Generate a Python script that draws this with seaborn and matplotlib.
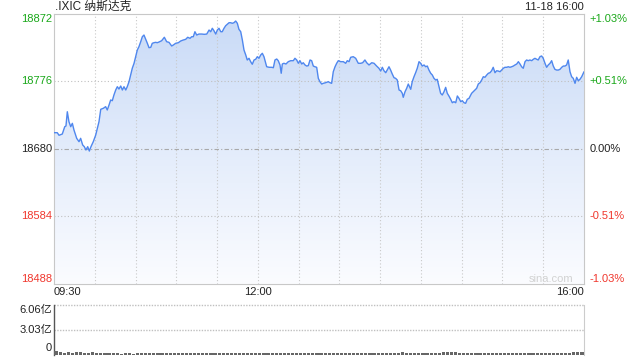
import numpy as np
import matplotlib
matplotlib.use('Agg')
import matplotlib.pyplot as plt
import seaborn as sns
from matplotlib.path import Path
from matplotlib.colors import LinearSegmentedColormap

# ---------------- data ----------------
# minutes after 09:30
t = [0, 2.4, 3.7, 6.1, 7.9, 8.8, 9.8, 11.0, 12.3, 13.5, 14.7, 16.7, 18.4, 19.6, 21.1, 22.3, 23.5, 24.8, 26.0, 27.2,
     28.9, 30.7, 31.9, 33.1, 34.4, 36.3, 38.0, 39.2, 40.5, 41.7, 42.9, 44.1, 45.4, 46.6, 47.8, 49.1, 50.3, 51.5, 52.8, 53.9,
     55.2, 56.4, 57.6, 58.9, 60.1, 61.3, 62.5, 63.8, 65.0, 66.2, 67.5, 68.7, 69.9, 71.2, 72.3, 73.6, 74.8, 76.0, 77.3,
     79.2, 81.2, 82.9, 84.6, 86.6, 87.8, 89.5, 91.5, 93.2, 95.1, 96.9, 98.4, 100.1, 101.3, 102.5, 103.7, 105.0, 106.7, 108.7, 110.6,
     112.4, 114.1, 115.3, 116.5, 117.7, 119.0, 120.2, 121.4, 122.7, 123.8, 125.1, 126.3, 127.5, 128.8, 130.0, 131.2, 132.4, 133.7, 134.9, 136.1,
     137.4, 138.6, 139.8, 141.1, 142.2, 143.5, 144.7, 145.9, 147.2, 148.4, 149.6, 150.8, 152.1, 153.3, 154.5,
     156.5, 158.4, 160.2, 161.4, 162.6, 163.9, 165.0, 166.3, 167.2, 168.0, 169.2, 170.7, 172.4, 174.2, 176.1, 177.3, 178.6, 179.8, 181.0, 182.3,
     183.4, 184.7, 185.9, 187.1, 188.4, 189.6, 190.8, 192.0, 193.3, 194.5, 195.7, 197.0, 198.1, 199.9, 201.8, 203.1, 204.3, 205.5, 206.8, 208.0,
     209.2, 210.9, 212.9, 214.6, 215.8, 217.1, 218.3, 220.2, 222.0, 223.9, 225.7, 227.1,
     228.8, 230.1, 231.8, 233.8, 235.5, 237.4, 239.1, 240.4, 241.6, 242.8, 244.1, 245.2, 246.5, 247.7, 248.9, 250.2, 251.4, 252.6, 253.9, 255.1,
     256.3, 257.0, 258.3, 259.5, 260.7, 262.5, 263.6, 264.9, 266.1, 267.3, 268.6, 269.8, 271.0, 272.3, 273.5, 274.7, 275.9, 277.2, 278.4, 279.6,
     280.9, 282.0, 283.3, 284.5, 285.7, 287.0, 288.2, 289.4, 290.6, 291.9, 293.1, 294.3, 295.6, 296.8, 298.0, 299.3, 300.4, 301.7, 302.9, 304.1,
     305.4,
     307.3, 308.5, 309.8, 311.0, 312.2, 313.5, 314.7, 315.9, 317.1, 318.4, 319.6, 320.8, 322.0, 323.2, 324.5, 325.7, 326.9, 328.2, 329.4, 330.6,
     331.8, 333.1, 334.3, 335.5, 336.8, 338.0, 339.2, 340.5, 341.7, 342.9, 344.1, 345.3, 346.6, 347.8, 349.0, 350.2, 351.5, 352.7, 353.9, 355.2,
     356.3, 357.6, 358.8, 360.0, 361.3, 362.5, 363.7, 365.0, 366.2, 367.4, 368.6, 369.9, 371.1, 372.3, 373.6, 374.8, 376.0, 377.2, 378.4, 379.7,
     380.9, 382.1, 383.4, 384.6, 385.8, 387.0, 388.3, 390.0]

price = [18703.2, 18703.2, 18699.5, 18701.3, 18711.7, 18712.7, 18733.0, 18718.8, 18711.7, 18716.5, 18707.0, 18695.2, 18690.4, 18695.2, 18685.7, 18683.3, 18678.6, 18683.3, 18677.1, 18683.3,
         18690.4, 18699.9, 18709.4, 18718.8, 18736.5, 18737.9, 18740.2, 18735.5, 18742.6, 18749.7, 18748.7, 18756.8, 18763.9, 18768.6, 18765.3, 18769.6, 18763.9, 18768.6, 18763.9, 18768.6,
         18775.7, 18785.2, 18794.8, 18801.9, 18811.3, 18820.8, 18825.5, 18832.6, 18839.7, 18842.1, 18836.0, 18830.3, 18824.1, 18824.6, 18830.3, 18831.2, 18831.7, 18831.2, 18832.2,
         18834.0, 18838.9, 18832.6, 18831.7, 18826.5, 18827.9, 18830.3, 18831.2, 18833.6, 18835.0, 18836.0, 18838.9, 18837.4, 18839.7, 18839.7, 18846.8, 18842.1, 18843.5, 18843.5, 18843.1,
         18843.5, 18849.2, 18846.8, 18851.7, 18848.2, 18843.5, 18849.2, 18851.7, 18846.8, 18846.8, 18851.7, 18855.3, 18857.3, 18859.6, 18859.6, 18858.8, 18859.6, 18862.0, 18858.8, 18850.2,
         18846.8, 18835.0, 18820.8, 18813.7, 18806.6, 18809.0, 18804.2, 18800.5, 18806.6, 18807.6, 18811.3, 18809.0, 18813.7, 18816.1, 18811.3,
         18797.0, 18796.2, 18796.2, 18795.6, 18806.6, 18808.0, 18805.6, 18799.5, 18787.7, 18800.9, 18801.9, 18800.9, 18804.2, 18805.6, 18805.6, 18809.0, 18806.6, 18801.9, 18805.6, 18800.9,
         18802.7, 18799.5, 18798.0, 18798.5, 18806.6, 18805.6, 18798.0, 18797.0, 18796.2, 18780.5, 18775.7, 18772.4, 18773.4, 18774.3, 18775.7, 18774.3, 18773.4, 18789.9, 18797.0, 18801.9,
         18805.6, 18804.2, 18804.2, 18801.9, 18805.6, 18804.2, 18810.4, 18811.3, 18809.0, 18801.9, 18801.9, 18802.7,
         18806.6, 18802.7, 18799.5, 18802.7, 18801.9, 18798.0, 18794.8, 18790.9, 18796.2, 18791.3, 18788.5, 18792.3, 18797.0, 18792.3, 18786.7, 18781.4, 18780.5, 18778.1, 18763.9, 18762.9,
         18759.2, 18753.5, 18761.5, 18766.3, 18772.4, 18764.9, 18775.7, 18782.8, 18788.5, 18794.8, 18804.2, 18801.9, 18798.0, 18799.5, 18797.0, 18798.0, 18792.3, 18787.7, 18785.2, 18780.5,
         18778.1, 18779.1, 18768.6, 18759.2, 18756.8, 18761.5, 18767.7, 18759.2, 18755.4, 18750.7, 18745.8, 18747.3, 18745.8, 18755.4, 18752.1, 18747.3, 18748.7, 18745.8, 18745.0, 18750.7,
         18752.1,
         18759.2, 18761.5, 18763.9, 18766.3, 18772.4, 18774.3, 18778.1, 18782.8, 18782.0, 18785.2, 18787.7, 18788.5, 18791.3, 18796.2, 18788.5, 18791.3, 18790.9, 18789.9, 18792.3, 18794.8,
         18796.2, 18796.2, 18797.0, 18796.2, 18797.0, 18798.0, 18799.5, 18800.9, 18804.2, 18800.9, 18797.0, 18794.8, 18804.2, 18806.6, 18805.6, 18806.6, 18805.6, 18807.6, 18809.0, 18807.6,
         18806.6, 18811.3, 18812.3, 18809.0, 18801.9, 18796.2, 18799.5, 18801.9, 18805.6, 18798.0, 18793.3, 18792.3, 18792.3, 18793.3, 18796.2, 18798.0, 18798.0, 18799.5, 18806.6, 18789.9,
         18782.8, 18780.5, 18773.4, 18782.0, 18777.1, 18779.1, 18782.8, 18789.9]

# volume per 3-minute bar, in 亿
volume = [0.45, 0.32, 0.30, 0.32, 0.30, 0.31, 0.32, 0.30, 0.29, 0.31, 0.30, 0.29, 0.30, 0.28,
          0.24, 0.22, 0.18, 0.24, 0.22, 0.18, 0.24, 0.22, 0.24, 0.26, 0.24, 0.24, 0.22, 0.24, 0.22, 0.24, 0.24,
          0.20, 0.21, 0.20, 0.19, 0.21, 0.20, 0.23, 0.20, 0.19, 0.21, 0.20, 0.20, 0.21, 0.19, 0.20,
          0.21, 0.20, 0.19, 0.20, 0.21, 0.20, 0.19, 0.20, 0.20, 0.21, 0.19, 0.20, 0.20, 0.19, 0.20,
          0.21, 0.20, 0.20, 0.19, 0.21, 0.20, 0.20, 0.19, 0.20, 0.21, 0.20, 0.19, 0.20, 0.20, 0.21,
          0.20, 0.19, 0.20, 0.21, 0.20, 0.20, 0.19, 0.20, 0.21,
          0.32, 0.27, 0.23, 0.21, 0.25, 0.23, 0.21, 0.25, 0.23, 0.27, 0.32, 0.34, 0.32, 0.33, 0.27, 0.23,
          0.20, 0.20, 0.19, 0.20, 0.21, 0.20, 0.19, 0.20, 0.20, 0.21, 0.20, 0.19, 0.20, 0.20, 0.21,
          0.20, 0.19, 0.20, 0.21, 0.20, 0.20, 0.19, 0.21, 0.23, 0.25, 0.27,
          0.34, 0.36, 0.32]
vol_t = [1.5 + 3 * i for i in range(len(volume))]

prev_close = 18680
y_ticks = [18872, 18776, 18680, 18584, 18488]
pct_labels = ['+1.03%', '+0.51%', '0.00%', '-0.51%', '-1.03%']
vol_ticks = [6.06, 3.03, 0]
vol_labels = ['6.06亿', '3.03亿', '0']
time_labels = ['09:30', '12:00', '16:00']
time_pos = [0, 150, 390]

GREEN = '#1aa81a'
RED = '#f0372d'
DARK = '#222222'

# ---------------- figure ----------------
sns.set_theme(style='white')
plt.rcParams['font.family'] = ['Liberation Sans', 'Noto Sans CJK SC', 'DejaVu Sans']

fig = plt.figure(figsize=(6.4, 3.6), dpi=100)
fig.patch.set_facecolor('white')
ax = fig.add_axes([54 / 640, 1 - 284 / 360, 530 / 640, 270 / 360])
axv = fig.add_axes([54 / 640, 1 - 355 / 360, 530 / 640, 50 / 360])

ymin, ymax = y_ticks[-1], y_ticks[0]

# gradient area under the line
cmap = LinearSegmentedColormap.from_list('area', ['#fbfcff', '#e3ecfb', '#c8daf7'])
grad = np.linspace(0, 1, 256).reshape(-1, 1)
im = ax.imshow(grad, aspect='auto', cmap=cmap, extent=[0, 390, ymin, ymax],
               origin='lower', zorder=1, interpolation='bilinear')
verts = list(zip(t, price)) + [(t[-1], ymin), (t[0], ymin), (t[0], price[0])]
im.set_clip_path(Path(verts), ax.transData)

sns.lineplot(x=t, y=price, ax=ax, color='#4f87ee', linewidth=1.0,
             estimator=None, sort=False, zorder=4)

# grid
for xv in range(30, 390, 30):
    ax.axvline(xv, color='#c9c9c9', lw=0.8, ls=(0, (1, 2)), zorder=2)
for yv in [18776, 18584]:
    ax.axhline(yv, color='#c0c0c0', lw=0.8, ls=(0, (1, 2)), zorder=2)
ax.axhline(prev_close, color='#a9a9a9', lw=0.8, ls=(0, (4, 2, 1, 2)), zorder=3)

ax.set_xlim(0, 390)
ax.set_ylim(ymin, ymax)
ax.set_xticks([])
ax.set_yticks([])
ax.set_xlabel('')
ax.set_ylabel('')
for s in ax.spines.values():
    s.set_color('#c8c8c8')
    s.set_linewidth(0.8)

colors = [GREEN, GREEN, DARK, RED, RED]
vas = ['top', 'center', 'center', 'center', 'bottom']
for v, pl, c, va in zip(y_ticks, pct_labels, colors, vas):
    ax.annotate(f'{v}', xy=(0, v), xycoords=('axes fraction', 'data'), xytext=(-1.5, 0),
                textcoords='offset points', ha='right', va=va, color=c, fontsize=8)
    ax.annotate(pl, xy=(1, v), xycoords=('axes fraction', 'data'), xytext=(4, 0),
                textcoords='offset points', ha='left', va=va, color=c, fontsize=8)

for lbl, pos, ha in zip(time_labels, time_pos, ['left', 'center', 'right']):
    ax.annotate(lbl, xy=(pos, 0), xycoords=('data', 'axes fraction'), xytext=(0, -2.5),
                textcoords='offset points', ha=ha, va='top', color=DARK, fontsize=8)

ax.text(0.979, 0.019, 'sina.com', transform=ax.transAxes, ha='right', va='center',
        color='#d2d2d2', fontsize=8)

fig.text(55 / 640, 1 - 7 / 360, '.IXIC 纳斯达克', ha='left', va='center', fontsize=8.5, color=DARK)
fig.text(584 / 640, 1 - 7 / 360, '11-18 16:00', ha='right', va='center', fontsize=8, color=DARK)

# ---------------- volume ----------------
axv.bar(vol_t, volume, width=2.3, color='#666666', linewidth=0, zorder=3)
axv.set_xlim(0, 390)
axv.set_ylim(0, vol_ticks[0])
axv.set_xticks([])
axv.set_yticks([])
axv.set_xlabel('')
axv.set_ylabel('')
for s in ['top', 'bottom']:
    axv.spines[s].set_visible(False)
axv.spines['left'].set_color('#555555')
axv.spines['left'].set_linewidth(1.0)
axv.spines['right'].set_color('#cccccc')
axv.spines['right'].set_linewidth(0.8)
for yv in vol_ticks[:2]:
    axv.axhline(yv, color='#c0c0c0', lw=1.0, ls=(0, (1, 1)), clip_on=False, zorder=1)
for yv, lbl, va in zip(vol_ticks, vol_labels, ['top', 'center', 'bottom']):
    axv.annotate(lbl, xy=(0, yv), xycoords=('axes fraction', 'data'),
                 xytext=(-1.5, 1.5 if va == 'bottom' else 0), textcoords='offset points',
                 ha='right', va=va, color=DARK, fontsize=8)

fig.savefig('out.png', dpi=100, facecolor='white')
